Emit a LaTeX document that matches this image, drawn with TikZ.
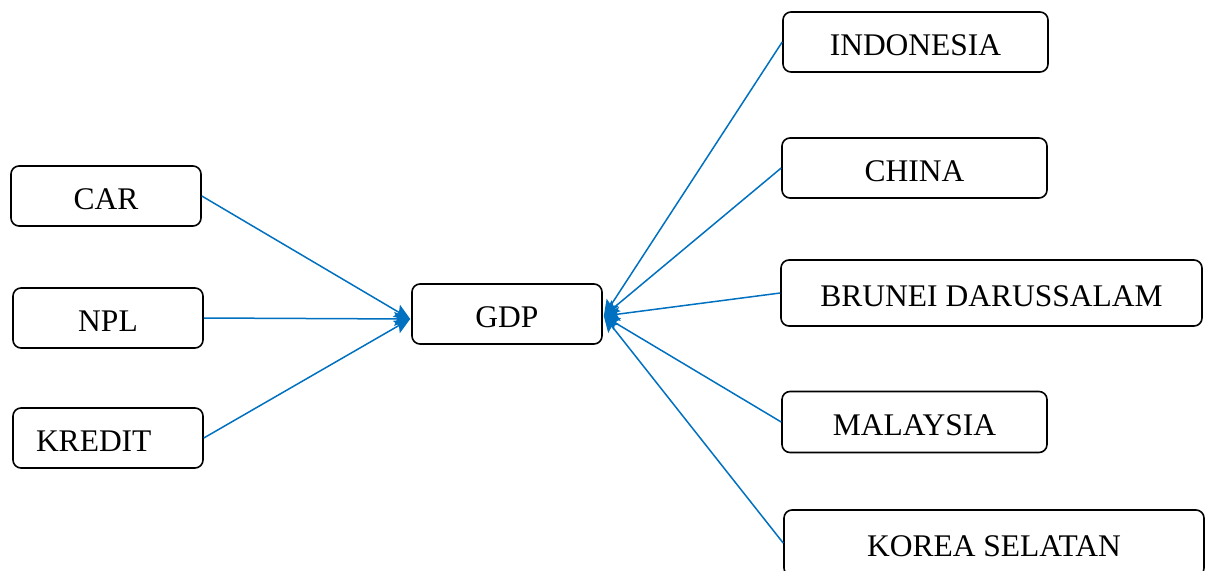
\documentclass[tikz,border=0pt]{standalone}
\usepackage{fontspec}
\setmainfont{Liberation Serif}
\usetikzlibrary{arrows.meta,calc}
\definecolor{lineblue}{RGB}{0,112,192}
\begin{document}
\begin{tikzpicture}[x=1pt,y=-1pt,
  box/.style={draw=black,line width=1.6pt,rounded corners=8pt,inner sep=0pt,
    minimum height=60pt,text height=26pt,text depth=0pt,font=\fontsize{31.5}{36}\selectfont},
  link/.style={draw=lineblue,line width=1.5pt,-{Stealth[length=16pt,width=14pt,inset=3pt]}}]
\useasboundingbox (0,0) rectangle (1209,570);
% left boxes
\node[box,minimum width=190pt] (car) at (106,196) {CAR};
\node[box,minimum width=190pt] (npl) at (108,318) {NPL};
\node[box,minimum width=190pt,text width=144pt,inner xsep=23pt,align=left] (kredit) at (108,438) {KREDIT};
% centre
\node[box,minimum width=190pt] (gdp) at (507,314) {GDP};
% right boxes
\node[box,minimum width=265pt] (indo) at (915.5,42) {INDONESIA};
\node[box,minimum width=265pt] (china) at (914.5,168) {CHINA};
\node[box,minimum width=421pt,minimum height=66pt] (brunei) at (991.5,293) {BRUNEI DARUSSALAM};
\node[box,minimum width=265pt,minimum height=61pt] (malay) at (914.5,422) {MALAYSIA};
\node[box,minimum width=420pt,minimum height=66pt] (korea) at (994,543) {KOREA SELATAN};
% arrival points on GDP
\coordinate (gin) at ($(gdp.west)+(-1,5)$);
\coordinate (gout) at ($(gdp.east)+(1,2)$);
% connectors
\draw[link] (car.east) -- (gin);
\draw[link] (npl.east) -- (gin);
\draw[link] (kredit.east) -- (gin);
\draw[link] (indo.west) -- (gout);
\draw[link] (china.west) -- (gout);
\draw[link] (brunei.west) -- (gout);
\draw[link] (malay.west) -- (gout);
\draw[link] (korea.west) -- (gout);
\end{tikzpicture}
\end{document}
